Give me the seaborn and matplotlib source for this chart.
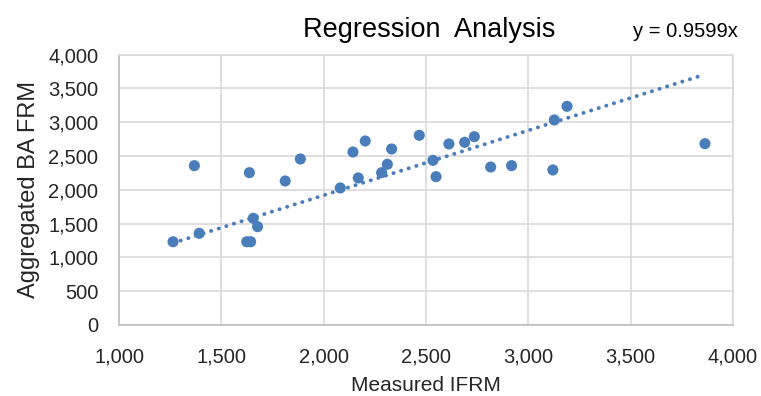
import numpy as np
import pandas as pd
import matplotlib
matplotlib.use('Agg')
import matplotlib.pyplot as plt
import seaborn as sns
from matplotlib.ticker import FuncFormatter, MultipleLocator


######
# Data
######
measured_ifrm = [1264, 1368, 1392, 1637, 1624, 1643, 1656, 1677, 1812, 1886,
                 2081, 2143, 2203, 2169, 2311, 2283, 2332, 2467, 2534, 2549,
                 2612, 2689, 2736, 2816, 2918, 3120, 3127, 3189, 3863]
aggregated_ba_frm = [1232, 2358, 1357, 2254, 1232, 1232, 1579, 1455, 2131, 2457,
                     2028, 2560, 2723, 2176, 2378, 2254, 2605, 2807, 2437, 2195,
                     2679, 2704, 2787, 2338, 2358, 2294, 3034, 3236, 2683]
slope = 0.9599

df = pd.DataFrame({'Measured IFRM': measured_ifrm,
                   'Aggregated BA FRM': aggregated_ba_frm})

# Trendline through the origin, drawn over the data range
trend_x = np.array([df['Measured IFRM'].min(), df['Measured IFRM'].max()])
trend = pd.DataFrame({'x': trend_x, 'y': slope * trend_x})


#######
# Style
#######
sns.set_style('white')
plt.rcParams['font.family'] = ['Liberation Sans', 'DejaVu Sans']
point_color = '#4a7ebb'
grid_color = '#d9d9d9'
text_color = '#262626'


######
# Plot
######
fig = plt.figure(figsize=(7.61, 3.96), dpi=100)
ax = fig.add_axes([0.1564, 0.1793, 0.8068, 0.6826])

sns.lineplot(data=trend, x='x', y='y', ax=ax, color=point_color,
             linestyle=(0, (0.05, 2.0)), linewidth=2.8, dash_capstyle='round', zorder=2)
sns.scatterplot(data=df, x='Measured IFRM', y='Aggregated BA FRM', ax=ax,
                color=point_color, s=64, edgecolor='none', zorder=3)

ax.set_xlim(1000, 4000)
ax.set_ylim(0, 4000)
ax.xaxis.set_major_locator(MultipleLocator(500))
ax.yaxis.set_major_locator(MultipleLocator(500))
fmt = FuncFormatter(lambda v, p: f'{int(v):,}')
ax.xaxis.set_major_formatter(fmt)
ax.yaxis.set_major_formatter(fmt)

ax.grid(True, color=grid_color, linewidth=1.2)
ax.set_axisbelow(True)
for side in ax.spines:
    ax.spines[side].set_color(grid_color)
    ax.spines[side].set_linewidth(1.2)
ax.spines['bottom'].set_color('#bfbfbf')
ax.spines['left'].set_color('#bfbfbf')

ax.tick_params(axis='both', length=0, labelsize=14.5, colors=text_color)
ax.tick_params(axis='x', pad=16)
ax.tick_params(axis='y', pad=15)
ax.set_xlabel('Measured IFRM', fontsize=15, color=text_color, labelpad=7)
ax.set_ylabel('Aggregated BA FRM', fontsize=17, color=text_color, labelpad=6)

fig.text(0.564, 0.907, 'Regression  Analysis', fontsize=19.5, color='black',
         ha='center', va='baseline')
fig.text(0.970, 0.907, 'y = 0.9599x', fontsize=14.5, color='black',
         ha='right', va='baseline')

fig.savefig('out.png', dpi=100)
